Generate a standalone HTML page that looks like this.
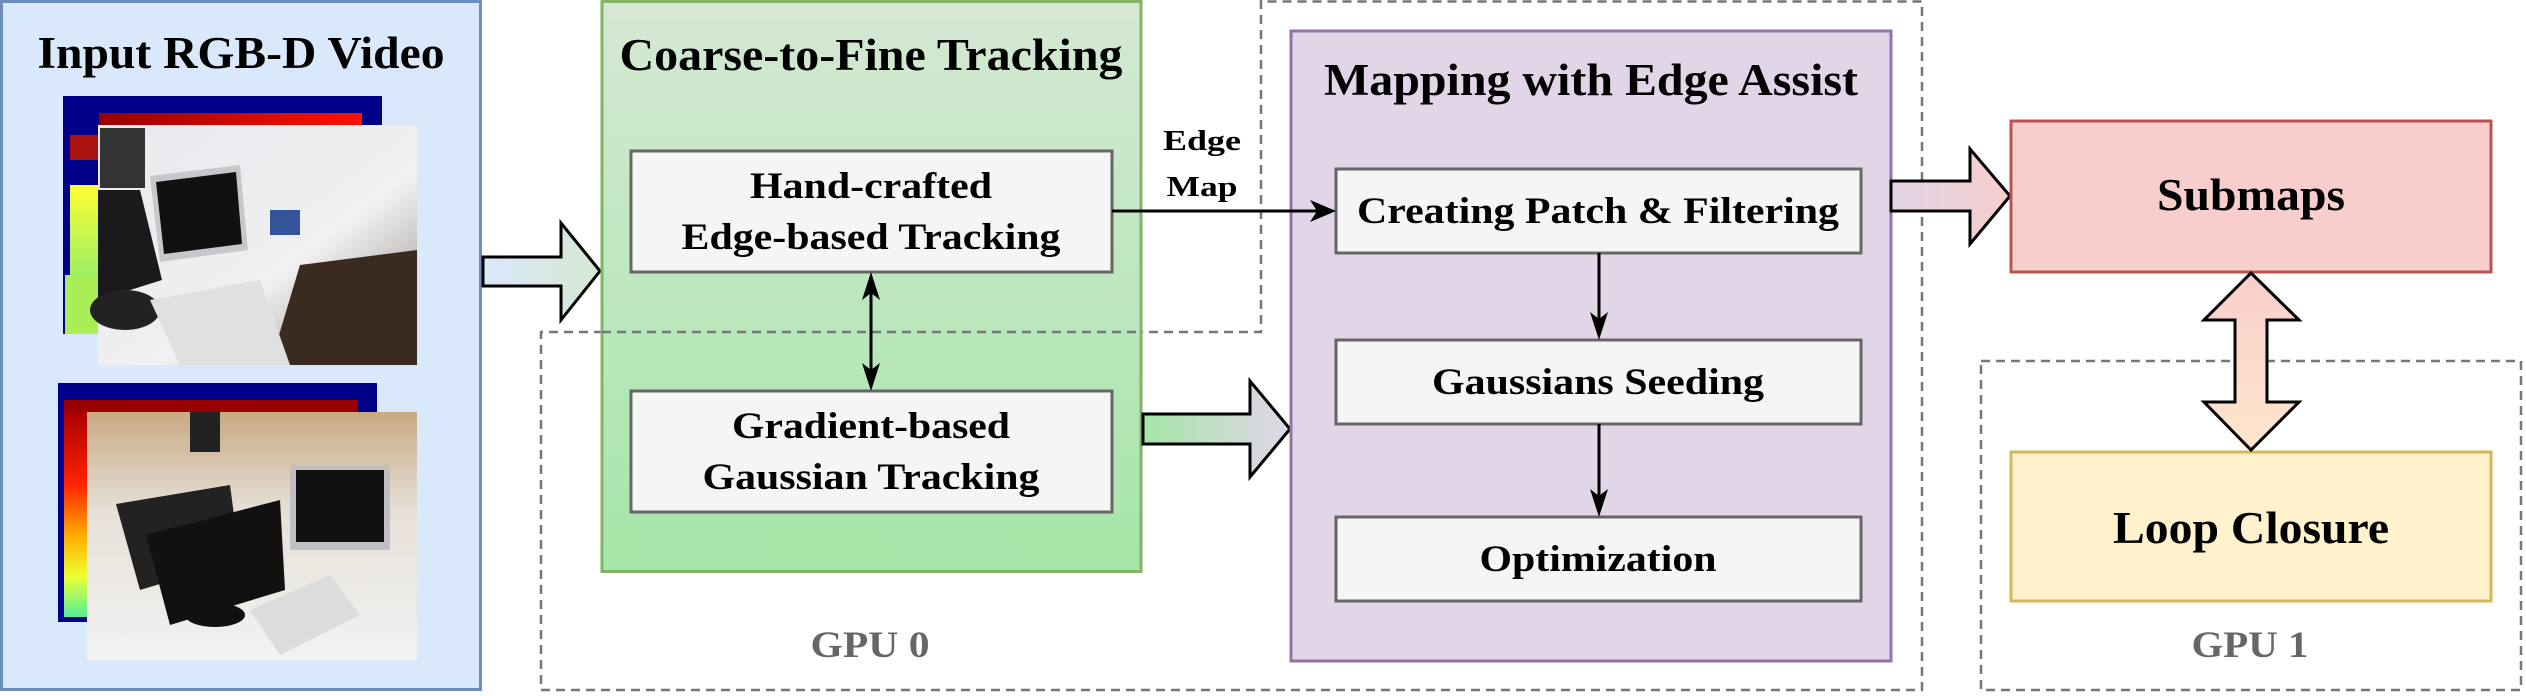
<!DOCTYPE html>
<html><head><meta charset="utf-8"><style>
html,body{margin:0;padding:0;background:#fff;}
svg{display:block;}
text{font-family:"Liberation Serif","Times New Roman",serif;font-weight:bold;}
</style></head><body>
<svg width="2526" height="696" viewBox="0 0 2526 696" xmlns="http://www.w3.org/2000/svg" font-family="Liberation Serif, serif">
<defs>
<linearGradient id="gGreen" x1="0" y1="0" x2="0" y2="1"><stop offset="0" stop-color="#d5e8d4"/><stop offset="1" stop-color="#a5e6a8"/></linearGradient>
<linearGradient id="aBlue" x1="0" y1="0" x2="1" y2="0"><stop offset="0" stop-color="#dae8fc"/><stop offset="1" stop-color="#d5e8d4"/></linearGradient>
<linearGradient id="aGreen" x1="0" y1="0" x2="1" y2="0"><stop offset="0" stop-color="#a5e6a8"/><stop offset="1" stop-color="#e1d5e7"/></linearGradient>
<linearGradient id="aPink" x1="0" y1="0" x2="1" y2="0"><stop offset="0" stop-color="#e1d5e7"/><stop offset="1" stop-color="#f8cecc"/></linearGradient>
<linearGradient id="aV" x1="0" y1="0" x2="0" y2="1"><stop offset="0" stop-color="#f8cecc"/><stop offset="1" stop-color="#ffe6cc"/></linearGradient>
<linearGradient id="depth1" x1="0" y1="0" x2="0" y2="1"><stop offset="0" stop-color="#ffff33"/><stop offset="1" stop-color="#99ee66"/></linearGradient>
<linearGradient id="depth2" x1="0" y1="0" x2="0" y2="1"><stop offset="0" stop-color="#aa0000"/><stop offset="0.35" stop-color="#ff2200"/><stop offset="0.6" stop-color="#ffaa00"/><stop offset="0.8" stop-color="#eeff33"/><stop offset="1" stop-color="#55ee99"/></linearGradient>
<linearGradient id="red1" x1="0" y1="0" x2="1" y2="0"><stop offset="0" stop-color="#990000"/><stop offset="1" stop-color="#ff1100"/></linearGradient>
<linearGradient id="photo1" x1="0" y1="0" x2="1" y2="1"><stop offset="0" stop-color="#e8e8ee"/><stop offset="0.6" stop-color="#f0f0f2"/><stop offset="1" stop-color="#8a8078"/></linearGradient>
<linearGradient id="photo2" x1="0" y1="0" x2="0" y2="1"><stop offset="0" stop-color="#c9a982"/><stop offset="0.4" stop-color="#e6e0d8"/><stop offset="1" stop-color="#f2f2f2"/></linearGradient>
</defs>

<!-- Input panel -->
<rect x="1.5" y="1.5" width="479" height="688" fill="#dae8fc" stroke="#6c8ebf" stroke-width="3"/>
<text x="241" y="68" font-size="45" text-anchor="middle" textLength="407" lengthAdjust="spacingAndGlyphs">Input RGB-D Video</text>

<rect x="63" y="96" width="319" height="238" fill="#000088"/>
<rect x="99" y="113" width="263" height="13" fill="url(#red1)"/>
<rect x="70" y="135" width="30" height="25" fill="#aa1111"/>
<rect x="70" y="185" width="28" height="95" fill="url(#depth1)"/>
<rect x="65" y="275" width="34" height="59" fill="#aaee55"/>
<rect x="98" y="125" width="319" height="240" fill="url(#photo1)"/>
<rect x="100" y="128" width="45" height="60" fill="#333"/>
<polygon points="150,176 240,165 248,250 160,262" fill="#c8c8cc"/>
<polygon points="156,182 236,172 242,244 164,254" fill="#111"/>
<polygon points="98,190 140,190 162,280 98,300" fill="#1a1a1a"/>
<ellipse cx="125" cy="310" rx="35" ry="20" fill="#222"/>
<polygon points="300,265 417,250 417,365 270,365" fill="#3a2a20"/>
<polygon points="150,300 260,280 290,365 180,365" fill="#e0e0e0"/>
<rect x="270" y="210" width="30" height="25" fill="#335599"/>
<rect x="58" y="383" width="319" height="239" fill="#000088"/>
<rect x="64" y="400" width="294" height="12" fill="#990000"/>
<rect x="64" y="412" width="30" height="205" fill="url(#depth2)"/>
<rect x="87" y="412" width="330" height="248" fill="url(#photo2)"/>
<polygon points="116,504 230,485 240,560 140,590" fill="#222"/>
<polygon points="146,535 280,500 285,590 170,625" fill="#111"/>
<ellipse cx="215" cy="615" rx="30" ry="12" fill="#111"/>
<rect x="290" y="465" width="100" height="85" fill="#c0c0c4"/>
<rect x="296" y="470" width="88" height="72" fill="#111"/>
<polygon points="250,610 330,575 360,615 280,655" fill="#dcdcdc"/>
<rect x="190" y="412" width="30" height="40" fill="#222"/>

<!-- arrow 1 -->
<polygon points="483,257 561,257 561,223 600,271 561,320 561,286 483,286" fill="url(#aBlue)" stroke="#000" stroke-width="3"/>

<!-- GPU0 dashed region -->
<polyline points="1261,0 1261,332 541,332 541,690 1922,690 1922,1.5 1261,1.5" fill="none" stroke="#777" stroke-width="2.5" stroke-dasharray="9,6"/>

<!-- Green box -->
<rect x="602" y="1.5" width="539" height="570" fill="url(#gGreen)" stroke="#82b366" stroke-width="3"/>
<text x="871" y="70" font-size="45" text-anchor="middle" textLength="503" lengthAdjust="spacingAndGlyphs">Coarse-to-Fine Tracking</text>
<line x1="602" y1="332" x2="1141" y2="332" stroke="#777" stroke-width="2.5" stroke-dasharray="9,6"/>

<rect x="631" y="151" width="481" height="121" fill="#f5f5f5" stroke="#666" stroke-width="3"/>
<text x="871" y="198" font-size="37" text-anchor="middle" textLength="242" lengthAdjust="spacingAndGlyphs">Hand-crafted</text>
<text x="871" y="249" font-size="37" text-anchor="middle" textLength="379" lengthAdjust="spacingAndGlyphs">Edge-based Tracking</text>
<rect x="631" y="391" width="481" height="121" fill="#f5f5f5" stroke="#666" stroke-width="3"/>
<text x="871" y="438" font-size="37" text-anchor="middle" textLength="278" lengthAdjust="spacingAndGlyphs">Gradient-based</text>
<text x="871" y="489" font-size="37" text-anchor="middle" textLength="337" lengthAdjust="spacingAndGlyphs">Gaussian Tracking</text>

<line x1="871" y1="285" x2="871" y2="378" stroke="#000" stroke-width="3"/>
<polygon points="871,272 862,300 871,293 880,300" fill="#000"/>
<polygon points="871,391 862,363 871,370 880,363" fill="#000"/>

<text x="1202" y="150" font-size="29" text-anchor="middle" textLength="78" lengthAdjust="spacingAndGlyphs">Edge</text>
<text x="1202" y="196" font-size="29" text-anchor="middle" textLength="71" lengthAdjust="spacingAndGlyphs">Map</text>

<!-- arrow 2 -->
<polygon points="1143,414 1250,414 1250,381 1290,429 1250,477 1250,444 1143,444" fill="url(#aGreen)" stroke="#000" stroke-width="3"/>

<!-- Purple box -->
<rect x="1291" y="31" width="600" height="630" fill="#e1d5e7" stroke="#9673a6" stroke-width="3"/>
<text x="1591" y="95" font-size="45" text-anchor="middle" textLength="534" lengthAdjust="spacingAndGlyphs">Mapping with Edge Assist</text>
<rect x="1336" y="169" width="525" height="84" fill="#f5f5f5" stroke="#666" stroke-width="3"/>
<text x="1598" y="223" font-size="37" text-anchor="middle" textLength="482" lengthAdjust="spacingAndGlyphs">Creating Patch &amp; Filtering</text>
<rect x="1336" y="340" width="525" height="84" fill="#f5f5f5" stroke="#666" stroke-width="3"/>
<text x="1598" y="394" font-size="37" text-anchor="middle" textLength="332" lengthAdjust="spacingAndGlyphs">Gaussians Seeding</text>
<rect x="1336" y="517" width="525" height="84" fill="#f5f5f5" stroke="#666" stroke-width="3"/>
<text x="1598" y="571" font-size="37" text-anchor="middle" textLength="237" lengthAdjust="spacingAndGlyphs">Optimization</text>
<line x1="1599" y1="253" x2="1599" y2="328" stroke="#000" stroke-width="3"/>
<polygon points="1599,340 1590,312 1599,319 1608,312" fill="#000"/>
<line x1="1599" y1="424" x2="1599" y2="505" stroke="#000" stroke-width="3"/>
<polygon points="1599,517 1590,489 1599,496 1608,489" fill="#000"/>

<!-- edge map connector (on top) -->
<line x1="1112" y1="211" x2="1322" y2="211" stroke="#000" stroke-width="3"/>
<polygon points="1336,211 1310,200 1317,211 1310,222" fill="#000"/>

<!-- arrow 3 -->
<polygon points="1891,181 1970,181 1970,149 2010,196 1970,244 1970,211 1891,211" fill="url(#aPink)" stroke="#000" stroke-width="3"/>

<rect x="1981" y="361" width="540" height="329" fill="none" stroke="#777" stroke-width="2.5" stroke-dasharray="9,6"/>

<rect x="2011" y="121" width="480" height="151" fill="#f8cecc" stroke="#b85450" stroke-width="3"/>
<text x="2251" y="210" font-size="45" text-anchor="middle" textLength="188" lengthAdjust="spacingAndGlyphs">Submaps</text>
<rect x="2011" y="452" width="480" height="149" fill="#fff2cc" stroke="#d6b656" stroke-width="3"/>
<text x="2251" y="543" font-size="45" text-anchor="middle" textLength="276" lengthAdjust="spacingAndGlyphs">Loop Closure</text>

<polygon points="2251,273 2299,320 2267,320 2267,402 2299,402 2251,450 2204,402 2235,402 2235,320 2204,320" fill="url(#aV)" stroke="#000" stroke-width="3"/>

<text x="870" y="657" font-size="37" text-anchor="middle" fill="#666" textLength="119" lengthAdjust="spacingAndGlyphs">GPU 0</text>
<text x="2250" y="657" font-size="37" text-anchor="middle" fill="#666" textLength="117" lengthAdjust="spacingAndGlyphs">GPU 1</text>
</svg>
</body></html>
